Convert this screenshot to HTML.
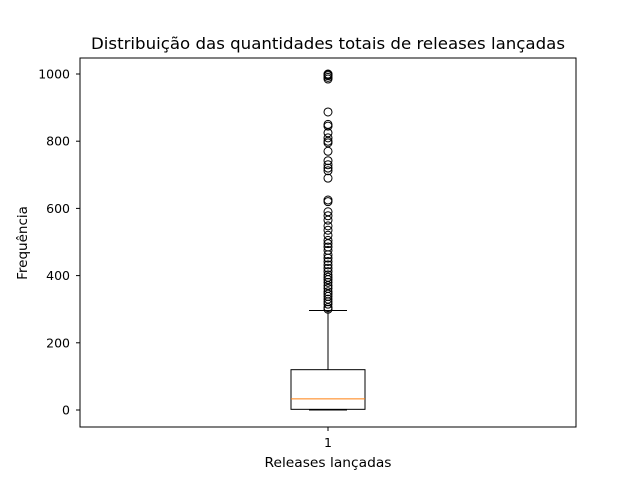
<!DOCTYPE html>
<html><head><meta charset="utf-8"><style>
body{margin:0;background:#fff;}
svg text{font-family:"DejaVu Sans","Liberation Sans",sans-serif;fill:#000;}
</style></head><body>
<svg width="640" height="480">
<rect width="640" height="480" fill="#fff"/>
<g id="plot"></g>
<rect x="80" y="58" width="496" height="369" fill="none" stroke="#000" stroke-width="1"/>
<text x="328" y="49" font-size="16" text-anchor="middle" textLength="474" lengthAdjust="spacingAndGlyphs">Distribuição das quantidades totais de releases lançadas</text>
<text x="328" y="467" font-size="13.5" text-anchor="middle" textLength="127" lengthAdjust="spacingAndGlyphs">Releases lançadas</text>
<text transform="translate(27,243) rotate(-90)" font-size="13.5" text-anchor="middle">Frequência</text>
<g id="yticks"></g>
<line x1="328" y1="427" x2="328" y2="431" stroke="#000"/>
<text x="328" y="447" font-size="12.5" text-anchor="middle">1</text>
</svg>
<script>
const categories=["1"];
const q1=[2], median=[33], q3=[120], whiskLo=[0], whiskHi=[296];
const outliers=[1000,998,995,990,985,887,850,845,825,810,800,795,770,742,730,720,712,690,625,620,590,578,565,548,535,520,505,495,485,475,462,452,442,432,422,412,402,395,388,380,370,362,352,345,338,330,322,315,305,300];
const yTicks=[0,200,400,600,800,1000];
const NS="http://www.w3.org/2000/svg";
const y=v=>410-v*0.336;
const cx=328;
function mk(tag,attrs,parent){const e=document.createElementNS(NS,tag);for(const k in attrs)e.setAttribute(k,attrs[k]);parent.appendChild(e);return e;}
const yt=document.getElementById('yticks');
yTicks.forEach(t=>{
 const l=mk('line',{x1:76,x2:80,y1:y(t),y2:y(t),stroke:'#000'},yt);
 
 
 const tx=mk('text',{x:70,y:y(t)+4.5,'font-size':12.5,'text-anchor':'end'},yt);
 tx.textContent=t;
 
 
});
const p=document.getElementById('plot');
const i=0;
let e;
e=mk('line',{x1:cx,x2:cx,y1:y(q3[i]),y2:y(whiskHi[i]),stroke:'#000'},p);


e=mk('line',{x1:cx-19,x2:cx+19,y1:y(whiskHi[i]),y2:y(whiskHi[i]),stroke:'#000'},p);


e=mk('line',{x1:cx-19,x2:cx+19,y1:y(whiskLo[i]),y2:y(whiskLo[i]),stroke:'#000'},p);


e=mk('rect',{x:cx-37,width:74,y:y(q3[i]),height:y(q1[i])-y(q3[i]),fill:'none',stroke:'#000'},p);


e=mk('line',{x1:cx-37,x2:cx+37,y1:y(median[i]),y2:y(median[i]),stroke:'#ff7f0e'},p);


outliers.forEach(v=>{
 const c=mk('circle',{cx:cx,cy:y(v),r:4,fill:'none',stroke:'#000'},p);
 
 
});
</script>
</body></html>
